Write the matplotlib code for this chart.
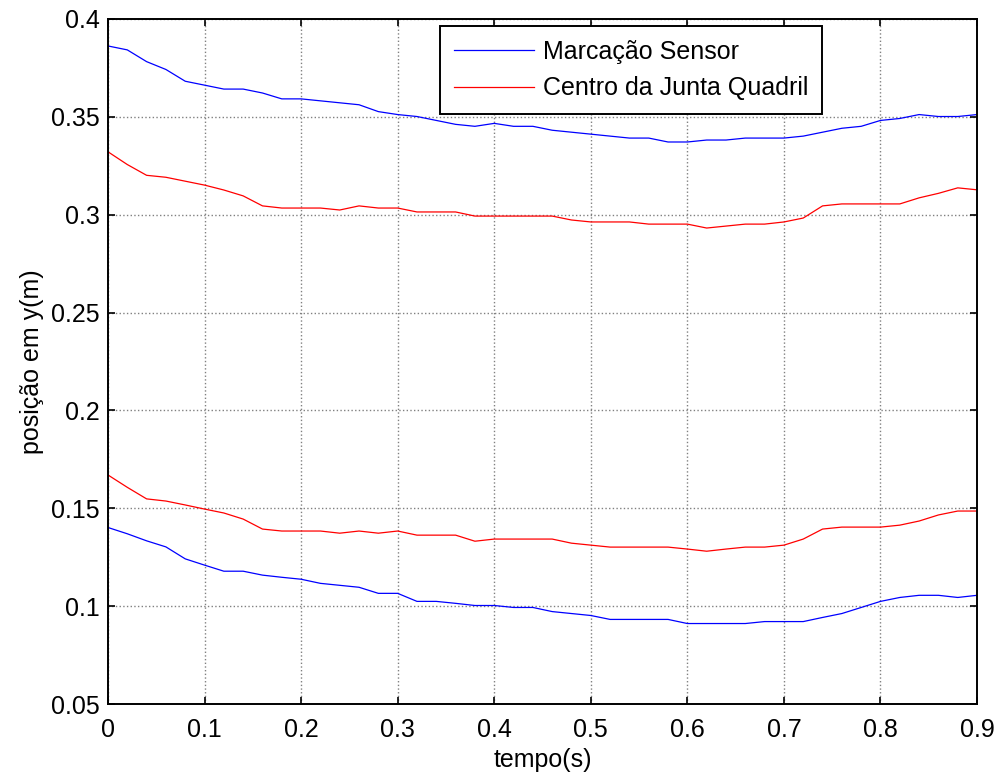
import matplotlib
matplotlib.use("Agg")
import matplotlib.pyplot as plt
from matplotlib.ticker import FuncFormatter
import numpy as np

plt.rcParams['font.family'] = ['Liberation Sans', 'DejaVu Sans']

# sample times (s), one sample every 0.02 s
tempo = np.round(np.arange(0, 0.901, 0.02), 2)

# upper pair of curves
sensor_sup = [0.386, 0.384, 0.378, 0.374, 0.368, 0.366, 0.364, 0.364, 0.362, 0.359,
              0.359, 0.358, 0.357, 0.356, 0.3525, 0.351, 0.350, 0.348, 0.346, 0.345,
              0.3465, 0.345, 0.345, 0.343, 0.342, 0.341, 0.340, 0.339, 0.339, 0.337,
              0.337, 0.338, 0.338, 0.339, 0.339, 0.339, 0.340, 0.342, 0.344, 0.345,
              0.348, 0.349, 0.351, 0.350, 0.350, 0.351]
quadril_sup = [0.332, 0.3255, 0.320, 0.319, 0.317, 0.315, 0.3125, 0.3095, 0.3044, 0.3033,
               0.3033, 0.3033, 0.3023, 0.3044, 0.3033, 0.3033, 0.3013, 0.3013, 0.3013, 0.2992,
               0.2992, 0.2992, 0.2992, 0.2992, 0.2972, 0.2962, 0.2962, 0.2962, 0.2951, 0.2951,
               0.2951, 0.2931, 0.2941, 0.2951, 0.2951, 0.2962, 0.2982, 0.3044, 0.3054, 0.3054,
               0.3054, 0.3054, 0.3085, 0.3108, 0.3136, 0.3126]

# lower pair of curves
sensor_inf = [0.1403, 0.1371, 0.1335, 0.1304, 0.1243, 0.1211, 0.118, 0.118, 0.116, 0.1149,
              0.1139, 0.1118, 0.1108, 0.1098, 0.1067, 0.1067, 0.1026, 0.1026, 0.1016, 0.1005,
              0.1005, 0.0995, 0.0995, 0.0974, 0.0964, 0.0954, 0.0934, 0.0934, 0.0934, 0.0934,
              0.0913, 0.0913, 0.0913, 0.0913, 0.0923, 0.0923, 0.0923, 0.0944, 0.0964, 0.0995,
              0.1026, 0.1046, 0.1057, 0.1057, 0.1046, 0.1057]
quadril_inf = [0.1671, 0.1608, 0.1549, 0.1538, 0.1518, 0.1497, 0.1477, 0.1446, 0.1395, 0.1385,
               0.1385, 0.1385, 0.1374, 0.1385, 0.1374, 0.1385, 0.1364, 0.1364, 0.1364, 0.1333,
               0.1344, 0.1344, 0.1344, 0.1344, 0.1323, 0.1313, 0.1303, 0.1303, 0.1303, 0.1303,
               0.1293, 0.1282, 0.1293, 0.1303, 0.1303, 0.1313, 0.1344, 0.1395, 0.1405, 0.1405,
               0.1405, 0.1415, 0.1436, 0.1467, 0.1487, 0.1487]

x_ticks = [0, 0.1, 0.2, 0.3, 0.4, 0.5, 0.6, 0.7, 0.8, 0.9]
y_ticks = [0.05, 0.1, 0.15, 0.2, 0.25, 0.3, 0.35, 0.4]

fig = plt.figure(figsize=(9.97, 7.75), dpi=100)
ax = fig.add_axes([0.1083, 0.0910, 0.8717, 0.8851])

ax.plot(tempo, sensor_sup, color='blue', lw=0.9, label='Marcação Sensor')
ax.plot(tempo, quadril_sup, color='red', lw=0.9, label='Centro da Junta Quadril')
ax.plot(tempo, sensor_inf, color='blue', lw=0.9)
ax.plot(tempo, quadril_inf, color='red', lw=0.9)

ax.set_xlim(0, 0.9)
ax.set_ylim(0.05, 0.4)
ax.set_xticks(x_ticks)
ax.set_yticks(y_ticks)
ax.xaxis.set_major_formatter(FuncFormatter(lambda v, p: '%g' % v))
ax.yaxis.set_major_formatter(FuncFormatter(lambda v, p: '%g' % v))
ax.tick_params(direction='in', top=True, right=True, length=5, width=1.2,
               labelsize=18)
ax.tick_params(axis='y', pad=6)
ax.tick_params(axis='x', pad=10)
ax.grid(True, color='#808080', linestyle=':', linewidth=1.0)
for s in ax.spines.values():
    s.set_linewidth(1.4)

ax.set_xlabel('tempo(s)', fontsize=18, labelpad=4)
ax.set_ylabel('posição em y(m)', fontsize=18, labelpad=5)

leg = ax.legend(loc='upper left', bbox_to_anchor=(0.382, 0.989), borderaxespad=0,
                fancybox=False, edgecolor='black', framealpha=1, fontsize=18,
                handlelength=3.2, handletextpad=0.36, labelspacing=0.5,
                borderpad=0.55)
leg.get_frame().set_linewidth(1.4)

fig.savefig('out.png', dpi=100)
